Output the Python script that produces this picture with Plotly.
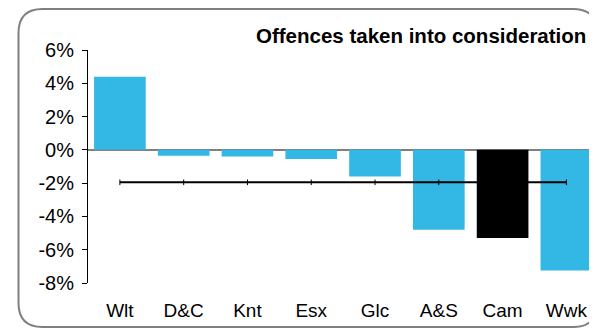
import plotly.graph_objects as go

categories = ["Wlt", "D&C", "Knt", "Esx", "Glc", "A&S", "Cam", "Wwk"]
values = [4.4, -0.35, -0.4, -0.55, -1.6, -4.8, -5.3, -7.25]
average = [-1.95] * len(categories)
bar_colors = ["#33b8e6"] * 6 + ["#000000"] + ["#33b8e6"]
y_ticks = [6, 4, 2, 0, -2, -4, -6, -8]

# the page body has an 8px margin, keep the figure inside the window
OFF = 8
W, H = 597 - OFF, 336 - 2 * OFF
L, R, T, B = 88 - OFF, 0, 50 - OFF, 336 - 2 * OFF - (283 - OFF)
pw, ph = W - L - R, H - T - B


def px(x):
    # page pixel -> paper coordinate
    return (x - OFF - L) / pw


def py(y):
    return (H - B - (y - OFF)) / ph


def rounded_rect(x0, y0, x1, y1, r):
    return (
        f"M {px(x0 + r)},{py(y0)} L {px(x1 - r)},{py(y0)} "
        f"Q {px(x1)},{py(y0)} {px(x1)},{py(y0 + r)} "
        f"L {px(x1)},{py(y1 - r)} Q {px(x1)},{py(y1)} {px(x1 - r)},{py(y1)} "
        f"L {px(x0 + r)},{py(y1)} Q {px(x0)},{py(y1)} {px(x0)},{py(y1 - r)} "
        f"L {px(x0)},{py(y0 + r)} Q {px(x0)},{py(y0)} {px(x0 + r)},{py(y0)} Z"
    )


fig = go.Figure()
fig.add_trace(go.Bar(
    x=categories, y=values, marker=dict(color=bar_colors, line=dict(width=0)),
    showlegend=False,
))
fig.add_trace(go.Scatter(
    x=categories, y=average, mode="lines+markers",
    line=dict(color="#000000", width=2),
    marker=dict(symbol="line-ns", size=4, line=dict(color="#000000", width=1)),
    showlegend=False,
))

fig.add_shape(type="path", xref="paper", yref="paper",
              path=rounded_rect(18.5, 9, 597, 327, 24),
              line=dict(color="#808080", width=2), layer="below")

fig.add_annotation(text="<b>Offences taken into consideration</b>",
                   xref="paper", yref="paper", x=px(588), y=py(35),
                   xanchor="right", yanchor="middle", showarrow=False,
                   font=dict(size=20.5, color="#000000"))

fig.update_layout(
    width=W, height=H,
    margin=dict(l=L, r=R, t=T, b=B),
    paper_bgcolor="white", plot_bgcolor="white",
    font=dict(family="Liberation Sans, Arial", size=20, color="#000000"),
    bargap=0.19,
    xaxis=dict(range=[-0.5, 7.48], showline=False, ticks="", showgrid=False,
               zeroline=False, tickfont=dict(size=19), ticklabelstandoff=14),
    yaxis=dict(range=[-8, 6], tickvals=y_ticks,
               ticktext=[f"{v}%" for v in y_ticks],
               showline=True, linecolor="#000000", linewidth=1,
               ticks="outside", ticklen=5, tickcolor="#000000",
               ticklabelstandoff=4,
               showgrid=False, zeroline=True, zerolinecolor="#808080",
               zerolinewidth=1.5, tickfont=dict(size=20)),
)

fig.write_html("out.html")
